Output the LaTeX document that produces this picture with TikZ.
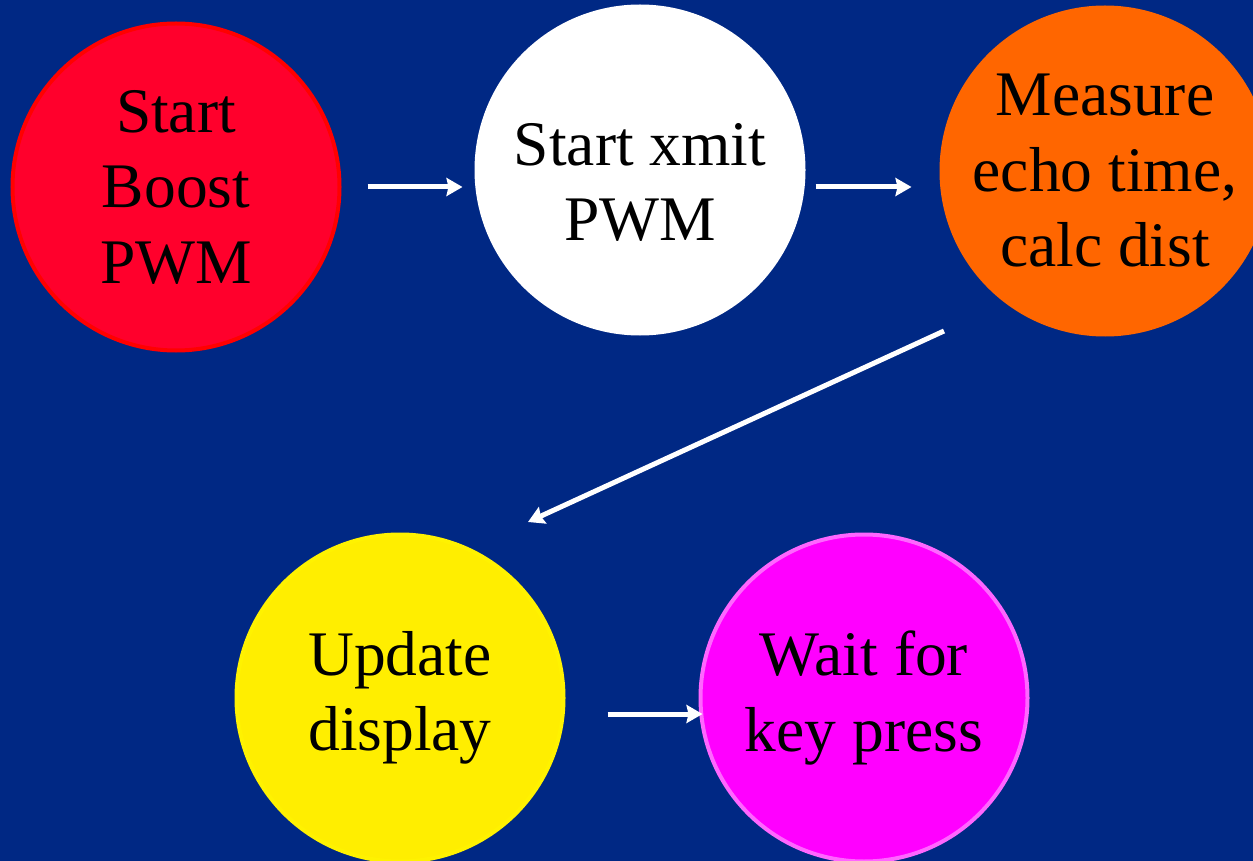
\documentclass[tikz,border=0pt]{standalone}
\usepackage{fontspec}
\setmainfont{Liberation Serif}
\usetikzlibrary{arrows.meta}

\definecolor{slidebg}{RGB}{0,40,132}
\definecolor{boostred}{RGB}{255,0,44}
\definecolor{measureorange}{RGB}{255,102,0}
\definecolor{updateyellow}{RGB}{255,238,0}
\definecolor{waitmagenta}{RGB}{255,0,255}
\definecolor{waitpink}{RGB}{255,102,255}

\tikzset{
  state/.style={circle, minimum size=163.5pt, inner sep=-40pt, line width=2pt,
    align=center, font=\fontsize{31.75}{37.75}\selectfont},
  flow/.style={white, line width=2.5pt, -{Stealth[length=8pt, width=9pt, inset=1pt]}}
}

\begin{document}
\begin{tikzpicture}[x=0.5pt, y=-0.5pt]
      % Background
      \fill[slidebg] (0,0) rectangle (1253,861);
      \useasboundingbox (0,0) rectangle (1253,861);
      \clip (0,0) rectangle (1253,861);

      % Nodes
      \node[state, draw=red, fill=boostred] (boost) at (176,187) {Start\\Boost\\PWM};
      \node[state, draw=white, fill=white] (xmit) at (640,170) {\rule{0pt}{33.5pt}Start xmit\\PWM};
      \node[state, draw=measureorange, fill=measureorange] (measure) at (1105,171) {Measure\\echo time,\\calc dist};
      \node[state, draw=yellow, fill=updateyellow] (update) at (400,698) {Update\\display};
      \node[state, draw=waitpink, fill=waitmagenta] (wait) at (864,698) {Wait for\\key press};
      \coordinate (diagstart) at (944,331);
      \coordinate (diagend) at (528,522);

      % Edges
      \draw[flow, shorten <=13pt, shorten >=6pt] (boost.east) -- (boost.east -| xmit.west);
      \draw[flow, shorten <=5pt, shorten >=14pt] ([yshift=-8.5pt]xmit.east) -- ([yshift=-8.5pt]xmit.east -| measure.west);
      \draw[flow] (diagstart) -- (diagend);
      \draw[flow, shorten <=21pt, shorten >=-2pt] ([yshift=-8pt]update.east) -- ([yshift=-8pt]update.east -| wait.west);

    \end{tikzpicture}
\end{document}
